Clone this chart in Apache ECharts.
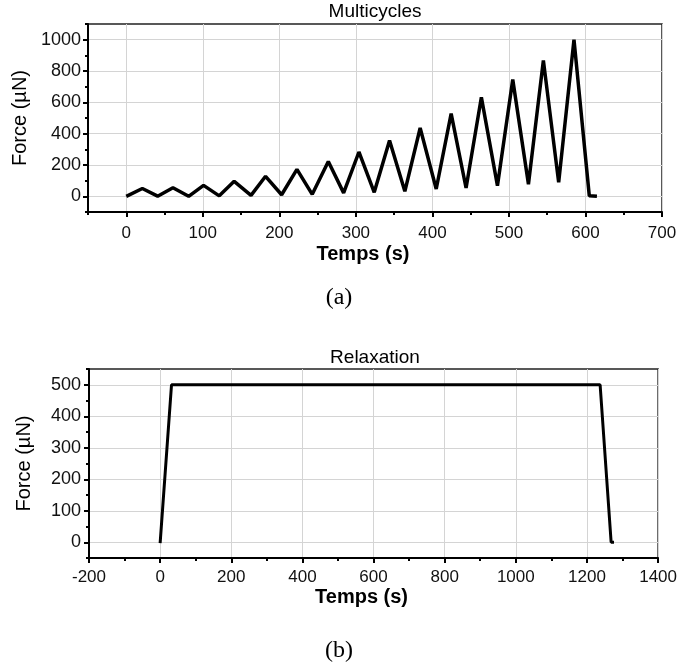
<!DOCTYPE html>
<html>
<head>
<meta charset="utf-8">
<script src="https://cdn.jsdelivr.net/npm/echarts@6/dist/echarts.min.js"></script>
<style>
html,body{margin:0;padding:0;background:#fff;}
#chart{width:680px;height:663px;}
</style>
</head>
<body>
<div id="chart"></div>
<script>
// ---- (a) Multicycles ----
const multiTime  = [0, 21, 41, 61, 81.5, 101, 121.5, 141, 163, 182, 203, 223, 243, 264, 284, 304, 324, 344, 364, 384, 405, 424.5, 444, 464, 485, 505, 525.5, 545, 565, 585, 605, 615];
const multiForce = [0, 50, 1, 55, 0, 70, 3, 96, 6, 128, 10, 172, 13, 223, 22, 283, 26, 357, 32, 436, 47, 528, 53, 632, 68, 745, 77, 868, 89, 1000, 4, 0];
const multiXTicks = [0, 100, 200, 300, 400, 500, 600, 700];
const multiXMinor = [-50, 50, 150, 250, 350, 450, 550, 650];
const multiYTicks = [0, 200, 400, 600, 800, 1000];
const multiYMinor = [-100, 100, 300, 500, 700, 900, 1100];

// ---- (b) Relaxation ----
const relaxTime  = [0, 32, 1237, 1268, 1276];
const relaxForce = [-3, 500, 500, 0, 0];
const relaxXTicks = [-200, 0, 200, 400, 600, 800, 1000, 1200, 1400];
const relaxXMinor = [-100, 100, 300, 500, 700, 900, 1100, 1300];
const relaxYTicks = [0, 100, 200, 300, 400, 500];
const relaxYMinor = [-50, 50, 150, 250, 350, 450, 550];

const FONT = '"Liberation Sans", Arial, sans-serif';
const gridColor = '#d4d4d4';
const plain = v => String(v);

function pairs(xs, ys) { return xs.map((x, i) => [x, ys[i]]); }

function mainX(grid, min, max, ticks, name, nameGap, labelMargin) {
  return {
    type: 'value', gridIndex: grid, position: 'bottom', min: min, max: max,
    axisLine: { show: true, onZero: false, lineStyle: { color: '#000', width: 2 } },
    axisTick: { show: true, inside: false, length: 5, customValues: ticks, lineStyle: { color: '#000', width: 2 } },
    axisLabel: { show: true, customValues: ticks, formatter: plain, margin: labelMargin, color: '#111', fontFamily: FONT, fontSize: 17 },
    splitLine: { show: true, lineStyle: { color: gridColor, width: 1 } },
    name: name, nameLocation: 'middle', nameGap: nameGap,
    nameTextStyle: { color: '#000', fontFamily: FONT, fontSize: 20, fontWeight: 'bold', padding: [0, 24, 0, 0] }
  };
}
function minorX(grid, min, max, ticks) {
  return {
    type: 'value', gridIndex: grid, position: 'bottom', min: min, max: max,
    axisLine: { show: false, onZero: false },
    axisTick: { show: true, inside: false, length: 3, customValues: ticks, lineStyle: { color: '#000', width: 2 } },
    axisLabel: { show: false }, splitLine: { show: false }
  };
}
function mainY(grid, min, max, ticks, labelMargin) {
  return {
    type: 'value', gridIndex: grid, position: 'left', min: min, max: max,
    axisLine: { show: true, onZero: false, lineStyle: { color: '#000', width: 2 } },
    axisTick: { show: true, inside: false, length: 5, customValues: ticks, lineStyle: { color: '#000', width: 2 } },
    axisLabel: { show: true, customValues: ticks, formatter: plain, margin: labelMargin, color: '#111', fontFamily: FONT, fontSize: 18 },
    splitLine: { show: true, lineStyle: { color: gridColor, width: 1 } },
    name: 'Force (µN)', nameLocation: 'middle', nameGap: 55, nameRotate: 90,
    nameTextStyle: { color: '#000', fontFamily: FONT, fontSize: 20 }
  };
}
function minorY(grid, min, max, ticks) {
  return {
    type: 'value', gridIndex: grid, position: 'left', min: min, max: max,
    axisLine: { show: false, onZero: false },
    axisTick: { show: true, inside: false, length: 3, customValues: ticks, lineStyle: { color: '#000', width: 2 } },
    axisLabel: { show: false }, splitLine: { show: false }
  };
}

const chart = echarts.init(document.getElementById('chart'), null, { renderer: 'canvas' });
chart.setOption({
  backgroundColor: '#fff',
  animation: false,
  grid: [
    { left: 88, top: 24, width: 574, height: 188, show: true, borderColor: '#222', borderWidth: 1.5, backgroundColor: 'transparent' },
    { left: 89, top: 369, width: 572, height: 189, show: true, borderColor: '#222', borderWidth: 1.5, backgroundColor: 'transparent' }
  ],
  xAxis: [
    mainX(0, -50, 700, multiXTicks, 'Temps (s)', 32, 13),
    minorX(0, -50, 700, multiXMinor),
    mainX(1, -200, 1400, relaxXTicks, 'Temps (s)', 29, 11),
    minorX(1, -200, 1400, relaxXMinor)
  ],
  yAxis: [
    mainY(0, -100, 1100, multiYTicks, 7),
    minorY(0, -100, 1100, multiYMinor),
    mainY(1, -50, 550, relaxYTicks, 8),
    minorY(1, -50, 550, relaxYMinor)
  ],
  series: [
    { type: 'line', xAxisIndex: 0, yAxisIndex: 0, data: pairs(multiTime, multiForce),
      showSymbol: false, lineStyle: { color: '#000', width: 3.5 }, z: 5 },
    { type: 'line', xAxisIndex: 2, yAxisIndex: 2, data: pairs(relaxTime, relaxForce),
      showSymbol: false, lineStyle: { color: '#000', width: 3 }, z: 5 }
  ],
  graphic: [
    { type: 'text', x: 375, y: 12, style: { text: 'Multicycles', textAlign: 'center', textVerticalAlign: 'middle', font: '19px ' + FONT, fill: '#000' } },
    { type: 'text', x: 375, y: 358, style: { text: 'Relaxation', textAlign: 'center', textVerticalAlign: 'middle', font: '19px ' + FONT, fill: '#000' } },
    { type: 'text', x: 339, y: 298, style: { text: '(a)', textAlign: 'center', textVerticalAlign: 'middle', font: '24px "Liberation Serif", "DejaVu Serif", serif', fill: '#000' } },
    { type: 'text', x: 339, y: 651, style: { text: '(b)', textAlign: 'center', textVerticalAlign: 'middle', font: '24px "Liberation Serif", "DejaVu Serif", serif', fill: '#000' } }
  ]
});
</script>
</body>
</html>
